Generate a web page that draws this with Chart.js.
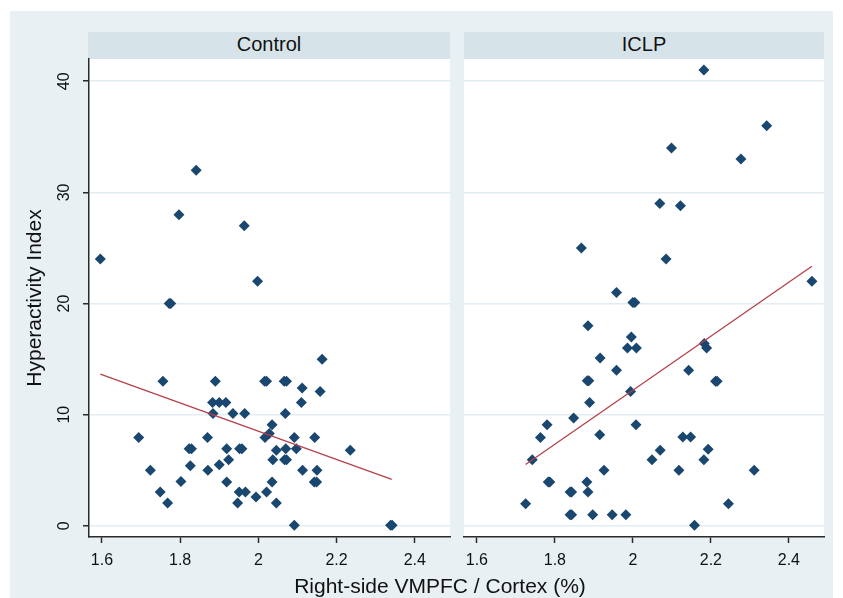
<!DOCTYPE html>
<html>
<head>
<meta charset="utf-8">
<script src="https://cdn.jsdelivr.net/npm/chart.js@4.4.1/dist/chart.umd.min.js"></script>
<style>
  body { margin: 0; background: #fff; font-family: "Liberation Sans", Arial, sans-serif; }
  #wrap { position: relative; width: 843px; height: 598px; overflow: hidden; }
  #bg { position: absolute; left: 10px; top: 11px; width: 823px; height: 587px; background: #e8f0f3; }
  .strip { position: absolute; top: 32px; height: 27px; background: #d6e4ea; text-align: center;
           font-size: 20px; line-height: 25px; color: #111; }
  .box { position: absolute; top: 0; height: 598px; }
  #xtitle { position: absolute; top: 574px; left: 240px; width: 400px; text-align: center;
            font-size: 21px; line-height: 24px; color: #111; }
</style>
</head>
<body>
<div id="wrap">
  <div id="bg"></div>
  <div class="strip" style="left:88px;width:362px">Control</div>
  <div class="strip" style="left:464px;width:360px">ICLP</div>
  <div class="box" style="left:0;width:460px"><canvas id="c1" width="460" height="598"></canvas></div>
  <div class="box" style="left:450px;width:393px"><canvas id="c2" width="393" height="598"></canvas></div>
  <div id="xtitle">Right-side VMPFC / Cortex (%)</div>
</div>
<script>
// values
const controlX = [1.596, 1.841, 1.797, 1.964, 1.998, 1.772, 1.776, 2.163, 1.756, 1.890, 2.016, 2.021,
  2.066, 2.072, 2.112, 2.158, 2.110, 1.883, 1.900, 1.917, 1.884, 1.935, 1.965, 2.069, 2.035,
  1.694, 1.870, 2.017, 2.028, 2.092, 2.144, 1.823, 1.829, 1.919, 1.952, 1.958, 2.046, 2.070,
  2.097, 2.235, 1.826, 1.871, 1.900, 1.924, 2.037, 2.067, 2.072, 2.113, 2.150, 1.724, 1.802,
  1.919, 2.035, 2.143, 2.149, 1.749, 1.951, 1.967, 2.021, 1.994, 1.768, 1.947, 2.046, 2.092,
  2.338, 2.342];
const controlY = [24, 32, 28, 27, 22, 20, 20, 15, 13, 13, 13, 13,
  13, 13, 12.4, 12.1, 11.1, 11.1, 11.1, 11.1, 10.1, 10.1, 10.1, 10.1, 9.1,
  7.95, 7.95, 7.95, 8.3, 7.95, 7.95, 6.95, 6.95, 6.95, 6.95, 6.95, 6.8, 6.95,
  6.95, 6.8, 5.4, 5.0, 5.5, 5.95, 5.95, 5.95, 5.95, 5.0, 5.0, 5.0, 4.0,
  3.95, 3.95, 3.95, 3.95, 3.05, 3.05, 3.05, 3.05, 2.6, 2.05, 2.05, 2.05, 0.05,
  0.05, 0.05];

const iclpX = [2.182, 2.343, 2.099, 2.277, 2.069, 2.122, 1.868, 2.085, 2.459, 1.958, 2.000, 2.005,
  1.885, 1.996, 1.986, 2.009, 2.183, 2.189, 1.916, 1.958, 2.143, 1.883, 1.887, 2.212, 2.216,
  1.994, 1.889, 1.848, 1.780, 2.008, 1.763, 1.915, 2.128, 2.148, 1.742, 2.049, 2.070, 2.193,
  2.182, 1.926, 2.118, 2.311, 1.783, 1.787, 1.882, 1.839, 1.843, 1.885, 1.725, 2.245, 1.839,
  1.843, 1.897, 1.947, 1.982, 2.158];
const iclpY = [41, 36, 34, 33, 29, 28.8, 25, 24, 22, 21, 20.1, 20.1,
  18, 17, 16, 16, 16.4, 16, 15.1, 14, 14, 13.05, 13.05, 13, 13,
  12.1, 11.1, 9.7, 9.1, 9.1, 7.95, 8.2, 8, 8, 5.95, 5.95, 6.8, 6.9,
  5.95, 5, 5, 5, 3.95, 3.95, 3.95, 3.05, 3.05, 3.05, 2, 2, 1,
  1, 1, 1, 1, 0.05];

// fitted lines (end points)
const fitControlX = [1.596, 2.341];
const fitControlY = [13.65, 4.18];
const fitIclpX = [1.725, 2.459];
const fitIclpY = [5.53, 23.36];

const xTicks = [1.6, 1.8, 2, 2.2, 2.4];
const xTickLabels = ['1.6', '1.8', '2', '2.2', '2.4'];
const yTicks = [0, 10, 20, 30, 40];
const yTickLabels = ['0', '10', '20', '30', '40'];

const navy = '#1a476f';
const fitColor = '#b5404a';
const axisColor = '#2a2a2a';
const font = 'Liberation Sans, Arial, sans-serif';

const pts = (xs, ys) => xs.map((x, i) => ({x: x, y: ys[i]}));

const whiteArea = {
  id: 'whiteArea',
  beforeDraw(chart) {
    const a = chart.chartArea, ctx = chart.ctx;
    ctx.save();
    ctx.fillStyle = '#fff';
    ctx.fillRect(a.left, a.top, a.right - a.left, a.bottom - a.top);
    ctx.restore();
  }
};

function makePanel(id, xs, ys, fx, fy, left) {
  const xScale = {
    type: 'linear', min: 1.567, max: 2.49,
    afterBuildTicks: s => { s.ticks = xTicks.map(v => ({value: v})); },
    afterFit: s => { s.height = 61; },
    grid: {drawOnChartArea: false, tickLength: 6, tickColor: axisColor, tickWidth: 1.5},
    border: {color: axisColor, width: 1.5},
    ticks: {padding: 8, color: '#111', font: {family: font, size: 16},
            callback: (v) => xTickLabels[xTicks.indexOf(v)]}
  };
  const yScale = {
    type: 'linear', min: -1, max: 42,
    afterBuildTicks: s => { s.ticks = yTicks.map(v => ({value: v})); },
    afterFit: s => { s.width = left ? 89 : 0; },
    grid: {color: '#e3ecf0', lineWidth: 1.5, drawTicks: left, tickLength: 6, tickColor: axisColor, tickWidth: 1.5},
    border: {display: left, color: axisColor, width: 1.5},
    ticks: {display: left, minRotation: 90, maxRotation: 90, crossAlign: 'center', padding: 10,
            color: '#111', font: {family: font, size: 16},
            callback: (v) => yTickLabels[yTicks.indexOf(v)]},
    title: {display: left, text: 'Hyperactivity Index', color: '#111',
            font: {family: font, size: 21}, padding: {top: 23, bottom: 0}}
  };
  new Chart(document.getElementById(id), {
    type: 'scatter',
    data: {
      datasets: [{
        type: 'line',
        data: pts(fx, fy),
        borderColor: fitColor,
        borderWidth: 1.3,
        pointRadius: 0,
        fill: false
      }, {
        data: pts(xs, ys),
        backgroundColor: navy,
        borderWidth: 0,
        pointStyle: 'rectRot',
        pointRadius: 5.5,
        pointHoverRadius: 5.5
      }]
    },
    options: {
      responsive: false,
      animation: false,
      layout: {padding: left ? {top: 59, right: 10, left: 0, bottom: 0} : {top: 59, right: 19, left: 14, bottom: 0}},
      plugins: {legend: {display: false}, tooltip: {enabled: false}},
      scales: {x: xScale, y: yScale}
    },
    plugins: [whiteArea]
  });
}

makePanel('c1', controlX, controlY, fitControlX, fitControlY, true);
makePanel('c2', iclpX, iclpY, fitIclpX, fitIclpY, false);
</script>
</body>
</html>
